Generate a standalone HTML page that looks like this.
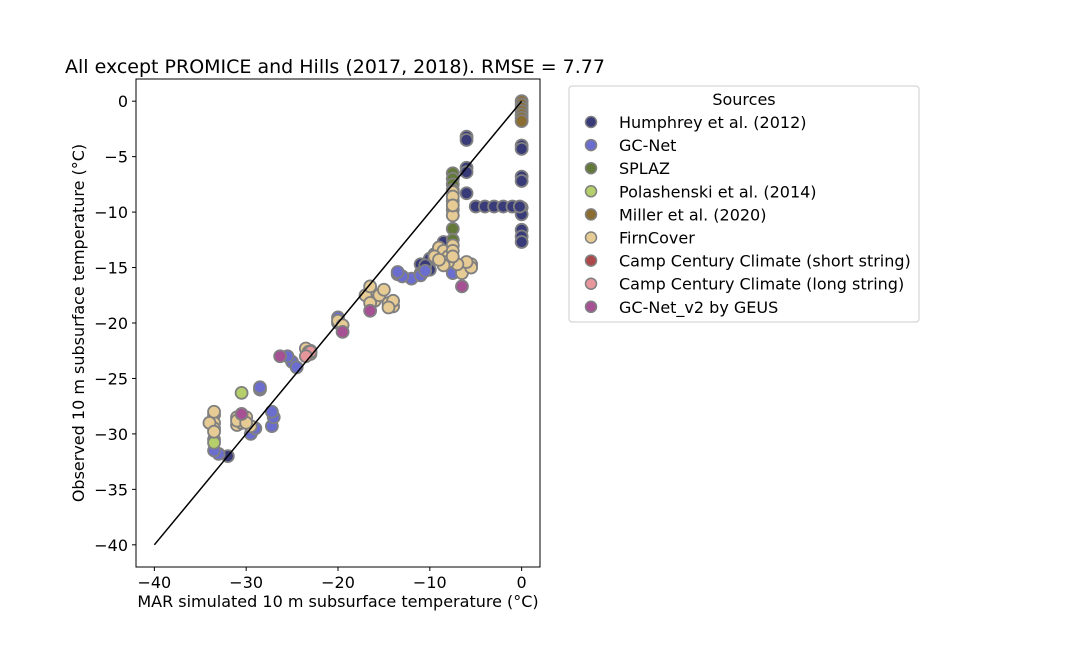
<!DOCTYPE html>
<html><head><meta charset="utf-8"><style>
body{margin:0;background:#fff;font-family:"Liberation Sans","DejaVu Sans",sans-serif}
svg text{font-family:"DejaVu Sans","Liberation Sans",sans-serif}
</style></head><body>
<svg id="chart" width="1080" height="648" xmlns="http://www.w3.org/2000/svg">
<rect width="1080" height="648" fill="#fff"/>
<text x="65" y="73" font-size="19" fill="#000">All except PROMICE and Hills (2017, 2018). RMSE = 7.77</text>
<g id="plot"></g>
<rect x="136" y="79" width="404" height="488" fill="none" stroke="#000" stroke-width="1"/>
<text x="338" y="607" font-size="16" text-anchor="middle">MAR simulated 10 m subsurface temperature (<tspan font-style="italic">°</tspan>C)</text>
<text transform="translate(84,323) rotate(-90)" font-size="16" text-anchor="middle">Observed 10 m subsurface temperature (°C)</text>
<g id="legend"></g>
</svg>
<script>
const NS="http://www.w3.org/2000/svg";
const seriesNames=["Humphrey et al. (2012)","GC-Net","SPLAZ","Polashenski et al. (2014)","Miller et al. (2020)","FirnCover","Camp Century Climate (short string)","Camp Century Climate (long string)","GC-Net_v2 by GEUS"];
const seriesColors=["#393b79","#6b6ecf","#637939","#b5cf6b","#8c6d31","#e7cb94","#ad494a","#e7969c","#a55194"];
const xTicks=[-40,-30,-20,-10,0];
const yTicks=[0,-5,-10,-15,-20,-25,-30,-35,-40];
const humphreyX=[0,0,0,0,0,0,0,0,0,-6,-6,-6,-6,-6,-5,-4,-3,-2,-1,-10,-10,-11,-32,-8.5,-9,-9.5,-10.5,-11,-0.2];
const humphreyY=[-4,-4.3,-6.8,-7.2,-9.6,-10.2,-11.6,-12.2,-12.7,-6,-6.4,-8.3,-3.2,-3.5,-9.5,-9.5,-9.5,-9.5,-9.5,-14.2,-15.2,-14.7,-32,-12.7,-13.2,-13.8,-14.8,-15.5,-9.5];
const gcnetX=[-33,-29.5,-27.2,-25,-24.5,-28.5,-28.5,-13.5,-12,-11,-20,-7.5,-10.5,-13,-33.5,-29,-27,-33.5,-27.2,-20,-13.5,-25.5];
const gcnetY=[-31.8,-30,-29.3,-23.5,-24,-26,-25.8,-15.6,-16,-15.7,-20,-15.5,-15.3,-15.8,-31.5,-29.5,-28.5,-30.5,-28,-19.5,-15.4,-23];
const splazX=[-7.5,-7.5,-7.5,-7.5,-7.5,-7.5];
const splazY=[-6.5,-7,-7.5,-8,-11.5,-12.5];
const polaX=[-30.5,-33.5];
const polaY=[-26.3,-30.8];
const millerX=[0,0,0,0,0,0,0];
const millerY=[0,-0.3,-0.6,-0.9,-1.2,-1.5,-1.8];
const firnX=[-33.5,-33.5,-33.5,-34,-31,-31,-30.5,-30,-29.5,-23,-23.5,-16.5,-16.5,-16,-15.5,-14.5,-14,-17,-15,-9,-8.5,-8,-8.5,-7.5,-7.5,-7.5,-7.5,-7.5,-7.5,-7.5,-6.5,-5.5,-5.5,-6,-7,-8,-9.5,-20,-19.5,-33.5,-33.5,-16.5,-16.5,-14,-14.5,-23,-23.2,-7.5,-7.5,-7.5,-8.5,-9,-31,-30];
const firnY=[-28.3,-29,-29.5,-29,-28.5,-29.2,-29,-28.5,-29.3,-22.5,-22.3,-17,-17.5,-18,-17.5,-18.2,-18.5,-17.5,-17,-13.2,-13.5,-14,-14.5,-14.3,-8.2,-9,-9.8,-10.3,-13,-13.5,-15.5,-14.7,-15,-14.5,-14.7,-14.5,-14,-19.8,-20.2,-28,-29.8,-16.7,-18.2,-18,-18.6,-22.8,-22.6,-8.6,-9.4,-14,-14.8,-14.3,-28.8,-29];
const ccShortX=[];
const ccShortY=[];
const ccLongX=[-23,-23.5];
const ccLongY=[-22.6,-23];
const v2X=[-26.3,-16.5,-19.5,-30.5,-6.5];
const v2Y=[-23,-18.9,-20.8,-28.2,-16.7];
const allX=[humphreyX,gcnetX,splazX,polaX,millerX,firnX,ccShortX,ccLongX,v2X];
const allY=[humphreyY,gcnetY,splazY,polaY,millerY,firnY,ccShortY,ccLongY,v2Y];
const X0=136,X1=540,Y0=79,Y1=567,xmin=-42,xmax=2,ymin=-42,ymax=2;
function sx(v){return X0+(v-xmin)/(xmax-xmin)*(X1-X0);}
function sy(v){return Y1-(v-ymin)/(ymax-ymin)*(Y1-Y0);}
function mk(t,a,p){const e=document.createElementNS(NS,t);for(const k in a)e.setAttribute(k,a[k]);(p||document.getElementById('plot')).appendChild(e);return e;}
xTicks.forEach(v=>{
 const l=mk('line',{x1:sx(v),x2:sx(v),y1:Y1,y2:Y1+4,stroke:'#000'});
 
 
 const t=mk('text',{x:sx(v),y:Y1+21,'font-size':16,'text-anchor':'middle'});
 t.textContent=v<0?'\u2212'+Math.abs(v):v;
 
 
});
yTicks.forEach(v=>{
 const l=mk('line',{x1:X0-4,x2:X0,y1:sy(v),y2:sy(v),stroke:'#000'});
 
 
 const t=mk('text',{x:X0-8,y:sy(v)+6,'font-size':16,'text-anchor':'end'});
 t.textContent=v<0?'\u2212'+Math.abs(v):v;
 
 
});
allX.forEach((xs,s)=>{
 xs.forEach((x,i)=>{
  const c=mk('circle',{cx:sx(x),cy:sy(allY[s][i]),r:6,fill:seriesColors[s],stroke:'#808080','stroke-width':1.8});
  
  
 });
});
const ln=mk('line',{x1:sx(-40),y1:sy(-40),x2:sx(0),y2:sy(0),stroke:'#000','stroke-width':1.5});


const lg=document.getElementById('legend');
const box=mk('rect',{x:569,y:86,width:350,height:236,rx:3,fill:'#fff',stroke:'#ccc'},lg);


const lt=mk('text',{x:744,y:105,'font-size':16,'text-anchor':'middle'},lg);
lt.textContent='Sources';


seriesNames.forEach((n,i)=>{
 const y=122+i*23.1;
 const c=mk('circle',{cx:591,cy:y,r:5.5,fill:seriesColors[i],stroke:'#808080','stroke-width':1.5},lg);
 
 
 const t=mk('text',{x:619,y:y+6,'font-size':16},lg);
 t.textContent=n;
 
 
});
</script>
</body></html>
